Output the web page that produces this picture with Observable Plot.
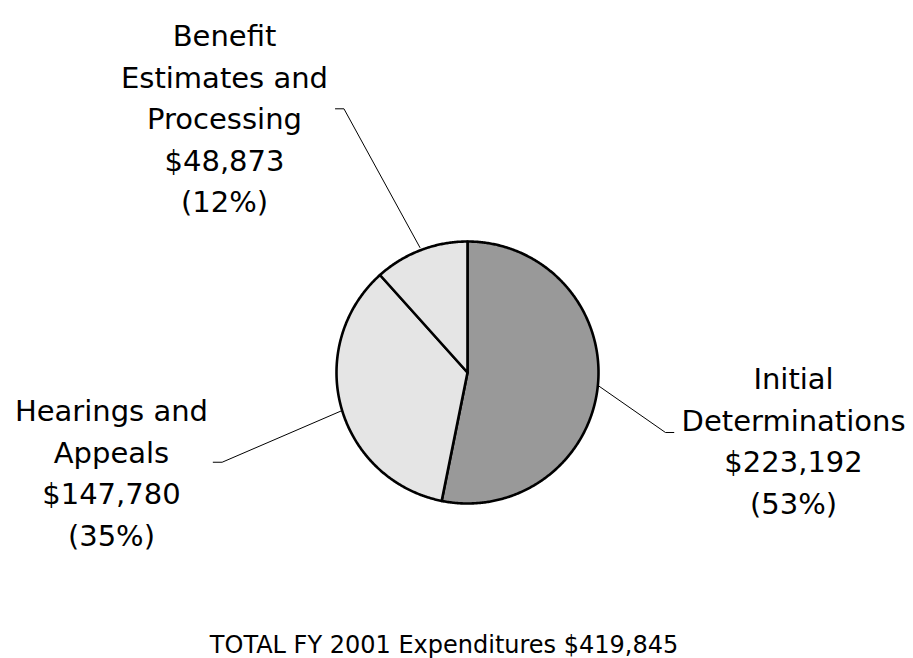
<!DOCTYPE html>
<html><head><meta charset="utf-8">
<script src="https://cdn.jsdelivr.net/npm/d3@7"></script>
<script src="https://cdn.jsdelivr.net/npm/@observablehq/plot@0.6"></script>
<style>html,body{margin:0;padding:0;background:#fff;} svg{display:block;}</style>
</head><body><div id="chart"></div>
<script>
// ---- data ----
const categories = ["Initial Determinations", "Hearings and Appeals", "Benefit Estimates and Processing"];
const labelNames = ["Initial\nDeterminations", "Hearings and\nAppeals", "Benefit\nEstimates and\nProcessing"];
const expenditures = [223192, 147780, 48873];
const percents = [53, 35, 12];
const totalLabel = "TOTAL FY 2001 Expenditures";

// ---- styling / layout (pie radius units, centre = 0,0) ----
const sliceFills = ["#999999", "#e5e5e5", "#e5e5e5"];
const labelLayout = [
  {x: 2.489, y: 0.100},
  {x: -2.718, y: -0.146},
  {x: -1.855, y: 2.717}
];
const leaderLayout = [
  [[1.002, -0.103], [1.511, -0.458], [1.575, -0.458]],
  [[-0.956, -0.290], [-1.873, -0.685], [-1.941, -0.685]],
  [[-0.363, 0.954], [-0.943, 2.013], [-1.008, 2.013]]
];
const captionPos = {x: -0.179, y: -2.143};

const rows = categories.map((c, i) => ({category: c, value: expenditures[i], pct: percents[i], i}));
const arcs = d3.pie().sort(null).value(d => d.value)(rows);

const fmt = d3.format(",");
const marks = [];
arcs.forEach((a, i) => {
  const pts = [{x: 0, y: 0}];
  const n = Math.max(8, Math.ceil((a.endAngle - a.startAngle) / (Math.PI / 360)));
  for (let k = 0; k <= n; k++) {
    const t = a.startAngle + (a.endAngle - a.startAngle) * k / n;
    pts.push({x: Math.sin(t), y: Math.cos(t)});
  }
  pts.push({x: 0, y: 0});
  marks.push(Plot.line(pts, {x: "x", y: "y", fill: sliceFills[i], stroke: "black", strokeWidth: 2.6, curve: "linear", strokeLinejoin: "round"}));
});

const leaderPts = leaderLayout.flatMap((seg, i) => seg.map(([x, y]) => ({x, y, s: i})));
marks.push(Plot.line(leaderPts, {x: "x", y: "y", z: "s", stroke: "black", strokeWidth: 1, curve: "linear"}));

const labelRows = rows.map((r, i) => ({
  x: labelLayout[i].x, y: labelLayout[i].y,
  text: `${labelNames[i]}\n$${fmt(r.value)}\n(${r.pct}%)`
}));
marks.push(Plot.text(labelRows, {x: "x", y: "y", text: "text", fontSize: 29, lineHeight: 1.434, lineAnchor: "top", textAnchor: "middle", fill: "black"}));

marks.push(Plot.text([{x: captionPos.x, y: captionPos.y, text: `${totalLabel} $${fmt(d3.sum(expenditures))}`}],
  {x: "x", y: "y", text: "text", fontSize: 24, lineAnchor: "bottom", textAnchor: "middle", fill: "black"}));

const chart = Plot.plot({
  width: 913,
  height: 658,
  margin: 0,
  x: {domain: [-1, 1], range: [336, 598], axis: null},
  y: {domain: [-1, 1], range: [503, 241], axis: null},
  style: {fontFamily: "'DejaVu Sans', Verdana, sans-serif", background: "white", overflow: "visible"},
  marks
});
document.getElementById("chart").appendChild(chart);
</script>
</body></html>
